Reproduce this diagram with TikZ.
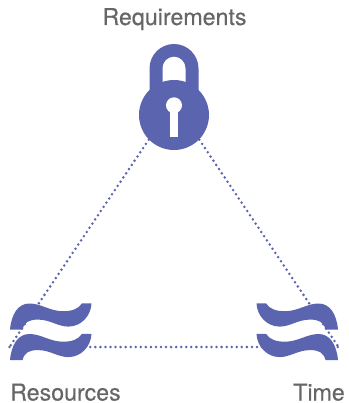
\documentclass[tikz,border=0pt]{standalone}
\usepackage{fontspec}
\setmainfont{TeX Gyre Heros}
\newfontfamily\labelfont[FakeBold=0.35]{TeX Gyre Heros}
\definecolor{lockblue}{HTML}{5B64AE}
\definecolor{labelgray}{HTML}{666666}
\tikzset{
  label text/.style={text=labelgray,inner sep=0pt,font=\labelfont\fontsize{23.2}{23.2}\selectfont},
  dots/.style={lockblue,line width=2.8pt,line cap=round,dash pattern=on 0pt off 5.05pt},
  wave/.pic={
    \fill[lockblue] (-81,25.5) .. controls (-79.5,10) and (-73,-0.5) .. (-61.5,-0.5)
      .. controls (-50,-0.5) and (-41,7.2) .. (-28,7.2)
      .. controls (-19,7.2) and (-12.5,5) .. (-9,-0.7) -- (0.5,-0.7)
      .. controls (0,12) and (-10,22.6) .. (-22.7,22.6)
      .. controls (-33,22.6) and (-41,15.6) .. (-53,15.6)
      .. controls (-62,15.6) and (-66.5,18) .. (-68.5,25.5) -- cycle;
  }
}
\begin{document}
\begin{tikzpicture}[x=1pt,y=-1pt]
  \useasboundingbox (0,0) rectangle (348,403);
  % corners of the triangle
  \coordinate (apex) at (174,102);
  \coordinate (res) at (9.5,347);
  \coordinate (tim) at (338.5,347);
  \coordinate (lock) at (174,115);
  % dotted sides
  \draw[dots] (apex) -- (res);
  \draw[dots] (apex) -- (tim);
  \draw[dots] (res) -- (tim);
  % padlock
  \fill[lockblue] (149.5,95) -- (149.5,68.5) arc[start angle=180,end angle=360,radius=24.5] -- (198.5,95) -- cycle;
  \fill[white] (162.5,90) -- (162.5,68.5) arc[start angle=180,end angle=360,x radius=11.5,y radius=11.8] -- (185.5,90) -- cycle;
  \fill[lockblue] (lock) circle[radius=35];
  \fill[white] (174,105.3) circle[radius=8];
  \fill[white] (170.2,105) rectangle (177.5,136.7);
  % waves
  \pic at (91,304) {wave};
  \pic at (91,334.5) {wave};
  \pic[xscale=-1] at (257,304) {wave};
  \pic[xscale=-1] at (257,334.5) {wave};
  % labels
  \node[label text,anchor=base] (requirements) at (174.5,25) {Requirements};
  \node[label text,anchor=base west] (resources) at (10,400.5) {Resources};
  \node[label text,anchor=base east] (time) at (345,400.5) {Time};
\end{tikzpicture}
\end{document}
